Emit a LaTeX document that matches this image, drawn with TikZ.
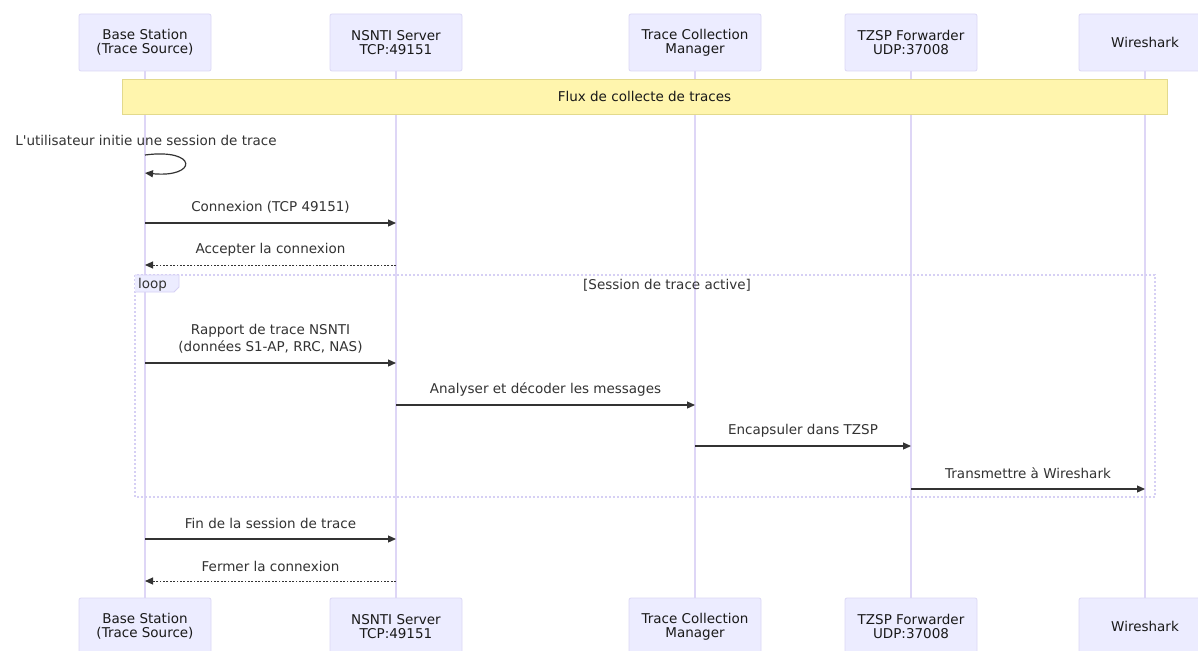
\documentclass[tikz,border=0pt]{standalone}
\usepackage{fontspec}
\setmainfont{DejaVu Sans}
\usetikzlibrary{arrows.meta}
\definecolor{actfill}{HTML}{ECECFF}
\definecolor{actdraw}{HTML}{DCD8F6}
\definecolor{lifec}{HTML}{DED6F6}
\definecolor{notefill}{HTML}{FFF5AD}
\definecolor{notedraw}{HTML}{E3DA8C}
\definecolor{loopc}{HTML}{D6D0F4}
\definecolor{txt}{HTML}{333333}
\tikzset{
  actorbox/.style={draw=actdraw, fill=actfill, line width=0.8pt, rounded corners=2pt,
    minimum width=132pt, minimum height=57pt, inner sep=0pt, align=center,
    font=\fontsize{13.5}{14}\selectfont, text=black!90},
  lifeline/.style={draw=lifec, line width=1.4pt},
  msg/.style={draw=txt, line width=1.2pt, -{Triangle[length=8pt,width=7pt]}},
  reply/.style={msg, line width=1pt, dash pattern=on 1.8pt off 1.6pt},
  msglabel/.style={font=\fontsize{13.5}{17}\selectfont, text=txt, inner sep=0pt, align=center},
}
\begin{document}
\begin{tikzpicture}[x=1pt,y=-1pt]
\useasboundingbox (0,0) rectangle (1198,650);
\fill[white] (0,0) rectangle (1198,650);
% lifelines
\foreach \n/\x in {a/145,b/396,c/695,d/911,e/1145}{
  \coordinate (\n top) at (\x,71);
  \coordinate (\n bot) at (\x,598);
  \draw[lifeline] (\n top) -- (\n bot);
}
% actors top
\node[actorbox] (A1) at (145,42.5) {Base Station\\(Trace Source)};
\node[actorbox] (B1) at (396,42.5) {NSNTI Server\\TCP:49151};
\node[actorbox] (C1) at (695,42.5) {Trace Collection\\Manager};
\node[actorbox] (D1) at (911,42.5) {TZSP Forwarder\\UDP:37008};
\node[actorbox] (E1) at (1145,42.5) {Wireshark};
% actors bottom
\node[actorbox] (A2) at (145,626.5) {Base Station\\(Trace Source)};
\node[actorbox] (B2) at (396,626.5) {NSNTI Server\\TCP:49151};
\node[actorbox] (C2) at (695,626.5) {Trace Collection\\Manager};
\node[actorbox] (D2) at (911,626.5) {TZSP Forwarder\\UDP:37008};
\node[actorbox] (E2) at (1145,626.5) {Wireshark};
% note
\node[draw=notedraw, fill=notefill, line width=0.8pt, minimum width=1045pt, minimum height=35pt,
  inner sep=0pt, font=\fontsize{13.5}{14}\selectfont, text=black!90] (note) at (644.5,96.5) {Flux de collecte de traces};
% self message
\node[msglabel] (l0) at (146,140) {L\textquotesingle utilisateur initie une session de trace};
\coordinate (s0) at (145,155);
\coordinate (s1) at (145,173);
\draw[msg] (s0) .. controls (198,148) and (198,178) .. (s1);
% messages
\coordinate (m1a) at (145,223); \coordinate (m1b) at (396,223);
\draw[msg] (m1a) -- (m1b);
\node[msglabel] (l1) at (270.5,207) {Connexion (TCP 49151)};
\coordinate (m2a) at (396,265); \coordinate (m2b) at (145,265);
\draw[reply] (m2a) -- (m2b);
\node[msglabel] (l2) at (270.5,250) {Accepter la connexion};
% loop box
\coordinate (lp1) at (135,275); \coordinate (lp2) at (1155,497);
\draw[loopc, line width=1.2pt, dash pattern=on 2pt off 2pt] (lp1) rectangle (lp2);
\fill[actfill] (135,275) -- (179,275) -- (179,287) -- (174,292) -- (135,292) -- cycle;
\draw[loopc, line width=0.8pt] (135,275) -- (179,275) -- (179,287) -- (174,292) -- (135,292);
\node[msglabel, anchor=west] (looplab) at (138,285) {loop};
\node[msglabel] (cond) at (667,285) {[Session de trace active]};
% loop messages
\coordinate (m3a) at (145,363); \coordinate (m3b) at (396,363);
\draw[msg] (m3a) -- (m3b);
\node[msglabel] (l3) at (270.5,339) {Rapport de trace NSNTI\\(données S1-AP, RRC, NAS)};
\coordinate (m4a) at (396,405); \coordinate (m4b) at (695,405);
\draw[msg] (m4a) -- (m4b);
\node[msglabel] (l4) at (545.5,390) {Analyser et décoder les messages};
\coordinate (m5a) at (695,446); \coordinate (m5b) at (911,446);
\draw[msg] (m5a) -- (m5b);
\node[msglabel] (l5) at (803,431) {Encapsuler dans TZSP};
\coordinate (m6a) at (911,489); \coordinate (m6b) at (1145,489);
\draw[msg] (m6a) -- (m6b);
\node[msglabel] (l6) at (1028,473) {Transmettre à Wireshark};
% closing
\coordinate (m7a) at (145,539); \coordinate (m7b) at (396,539);
\draw[msg] (m7a) -- (m7b);
\node[msglabel] (l7) at (270.5,523) {Fin de la session de trace};
\coordinate (m8a) at (396,581); \coordinate (m8b) at (145,581);
\draw[reply] (m8a) -- (m8b);
\node[msglabel] (l8) at (270.5,566) {Fermer la connexion};
\end{tikzpicture}
\end{document}
